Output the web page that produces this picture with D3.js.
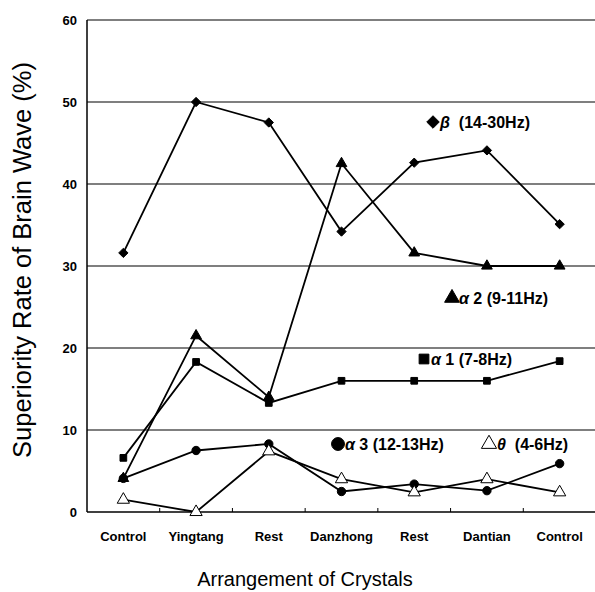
<!DOCTYPE html>
<html>
<head>
<meta charset="utf-8">
<script src="https://cdn.jsdelivr.net/npm/d3@7"></script>
<style>
  body { margin: 0; background: #fff; }
  text { font-family: "Liberation Sans", Arial, sans-serif; fill: #000; }
</style>
</head>
<body>
<script>
var width = 595,
    height = 592;

var categories = ["Control", "Yingtang", "Rest", "Danzhong", "Rest", "Dantian", "Control"];
var yTicks = [0, 10, 20, 30, 40, 50, 60];

var beta   = [31.6, 50.0, 47.5, 34.2, 42.6, 44.1, 35.1];
var alpha2 = [4.1, 21.5, 14.0, 42.5, 31.6, 30.0, 30.0];
var alpha1 = [6.6, 18.3, 13.3, 16.0, 16.0, 16.0, 18.4];
var alpha3 = [4.1, 7.5, 8.3, 2.5, 3.4, 2.6, 5.9];
var theta  = [1.5, 0.0, 7.4, 4.0, 2.4, 4.0, 2.4];

var series = [
  { name: "beta", values: beta, symbol: d3.symbolDiamond2, size: 55, fill: "#000" },
  { name: "alpha2", values: alpha2, symbol: d3.symbolTriangle, size: 50, fill: "#000" },
  { name: "alpha1", values: alpha1, symbol: d3.symbolSquare, size: 45, fill: "#000" },
  { name: "alpha3", values: alpha3, symbol: d3.symbolCircle, size: 55, fill: "#000" },
  { name: "theta", values: theta, symbol: d3.symbolTriangle, size: 65, fill: "#fff" }
];

var svg = d3.select("body").append("svg")
    .attr("width", width)
    .attr("height", height);

var x = d3.scaleBand()
    .domain(d3.range(categories.length))
    .range([87, 596])
    .padding(0);

var y = d3.scaleLinear()
    .domain([0, 60])
    .range([512, 20]);

// grid lines
svg.append("g")
  .selectAll("line")
  .data(yTicks.filter(function (d) { return d > 0; }))
  .enter().append("line")
    .attr("x1", 87)
    .attr("x2", 596)
    .attr("y1", function (d) { return y(d); })
    .attr("y2", function (d) { return y(d); })
    .attr("stroke", "#000")
    .attr("stroke-width", 1.2);

// axes
svg.append("line")
    .attr("x1", 87).attr("x2", 87)
    .attr("y1", y(60)).attr("y2", y(0))
    .attr("stroke", "#000").attr("stroke-width", 1.5);
svg.append("line")
    .attr("x1", 87).attr("x2", 596)
    .attr("y1", y(0)).attr("y2", y(0))
    .attr("stroke", "#000").attr("stroke-width", 1.5);

// x tick marks between categories
svg.append("g")
  .selectAll("line")
  .data(d3.range(1, categories.length))
  .enter().append("line")
    .attr("x1", function (i) { return x(i); })
    .attr("x2", function (i) { return x(i); })
    .attr("y1", y(0))
    .attr("y2", y(0) - 4)
    .attr("stroke", "#000");

// y tick labels
svg.append("g")
  .selectAll("text")
  .data(yTicks)
  .enter().append("text")
    .attr("x", 77)
    .attr("y", function (d) { return y(d) + 5; })
    .attr("text-anchor", "end")
    .attr("font-size", 13)
    .attr("font-weight", "bold")
    .text(function (d) { return d; });

// x tick labels
svg.append("g")
  .selectAll("text")
  .data(categories)
  .enter().append("text")
    .attr("x", function (d, i) { return x(i) + x.bandwidth() / 2; })
    .attr("y", 541)
    .attr("text-anchor", "middle")
    .attr("font-size", 13)
    .attr("font-weight", "bold")
    .text(function (d) { return d; });

// axis titles
svg.append("text")
    .attr("x", 305)
    .attr("y", 586)
    .attr("text-anchor", "middle")
    .attr("font-size", 20)
    .text("Arrangement of Crystals");

svg.append("text")
    .attr("transform", "translate(31,260) rotate(-90)")
    .attr("text-anchor", "middle")
    .attr("font-size", 25.5)
    .text("Superiority Rate of Brain Wave (%)");

// lines and markers
var line = d3.line()
    .x(function (d, i) { return x(i) + x.bandwidth() / 2; })
    .y(function (d) { return y(d); });

series.forEach(function (s) {
  svg.append("path")
      .datum(s.values)
      .attr("d", line)
      .attr("fill", "none")
      .attr("stroke", "#000")
      .attr("stroke-width", 1.8);
});

series.forEach(function (s) {
  svg.append("g")
    .selectAll("path")
    .data(s.values)
    .enter().append("path")
      .attr("transform", function (d, i) {
        return "translate(" + (x(i) + x.bandwidth() / 2) + "," + y(d) + ")";
      })
      .attr("d", d3.symbol().type(s.symbol).size(s.size))
      .attr("fill", s.fill)
      .attr("stroke", "#000")
      .attr("stroke-width", 1);
});

// in-plot labels
var labels = [
  { sym: d3.symbolDiamond2, size: 100, fill: "#000", sx: 433, greek: "\u03b2", rest: "  (14-30Hz)", tx: 440, ty: 128 },
  { sym: d3.symbolTriangle, size: 95, fill: "#000", sx: 452, greek: "\u03b1", rest: " 2 (9-11Hz)", tx: 459, ty: 304 },
  { sym: d3.symbolSquare, size: 95, fill: "#000", sx: 424, greek: "\u03b1", rest: " 1 (7-8Hz)", tx: 431, ty: 365 },
  { sym: d3.symbolCircle, size: 130, fill: "#000", sx: 338, greek: "\u03b1", rest: " 3 (12-13Hz)", tx: 345, ty: 450 },
  { sym: d3.symbolTriangle, size: 100, fill: "#fff", sx: 489, greek: "\u03b8", rest: "  (4-6Hz)", tx: 497, ty: 450 }
];

labels.forEach(function (l) {
  svg.append("path")
      .attr("transform", "translate(" + l.sx + "," + (l.ty - 6) + ")")
      .attr("d", d3.symbol().type(l.sym).size(l.size))
      .attr("fill", l.fill)
      .attr("stroke", "#000")
      .attr("stroke-width", 1);
  var t = svg.append("text")
      .attr("x", l.tx)
      .attr("y", l.ty)
      .attr("font-size", 16)
      .attr("font-weight", "bold")
      .attr("xml:space", "preserve");
  t.append("tspan").attr("font-style", "italic").text(l.greek);
  t.append("tspan").text(l.rest);
});
</script>
</body>
</html>
